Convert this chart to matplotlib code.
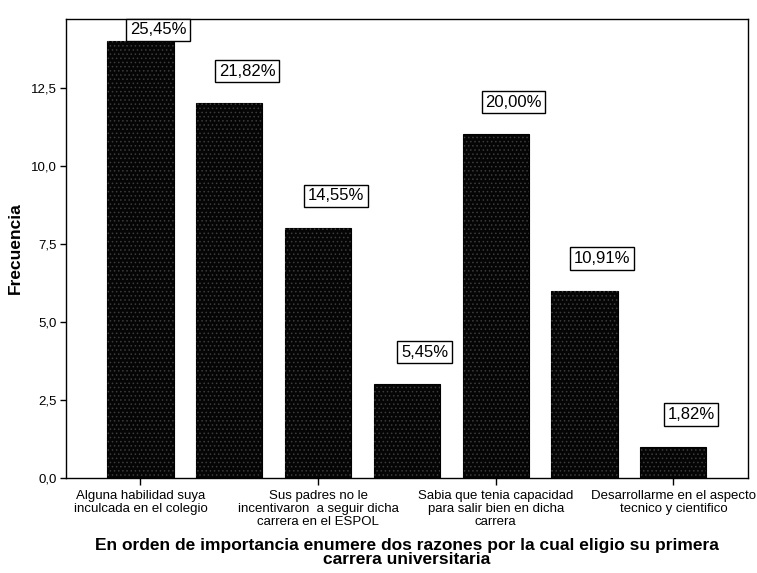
import matplotlib
matplotlib.use("Agg")
import matplotlib.pyplot as plt
import numpy as np

plt.rcParams['font.family'] = ['Liberation Sans', 'DejaVu Sans']
plt.rcParams['hatch.linewidth'] = 0.6

# Data
categories = [
    "Alguna habilidad suya\ninculcada en el colegio",
    "",
    "Sus padres no le\nincentivaron  a seguir dicha\ncarrera en el ESPOL",
    "",
    "Sabia que tenia capacidad\npara salir bien en dicha\ncarrera",
    "",
    "Desarrollarme en el aspecto\ntecnico y cientifico",
]
frecuencia = [14, 12, 8, 3, 11, 6, 1]
porcentaje = ["25,45%", "21,82%", "14,55%", "5,45%", "20,00%", "10,91%", "1,82%"]
yticks = [0, 2.5, 5, 7.5, 10, 12.5]
ytick_labels = ["0,0", "2,5", "5,0", "7,5", "10,0", "12,5"]
xlabel = "En orden de importancia enumere dos razones por la cual eligio su primera\ncarrera universitaria"
ylabel = "Frecuencia"

fig = plt.figure(figsize=(7.57, 5.73), dpi=100)
ax = fig.add_axes([0.087, 0.166, 0.901, 0.801])

x = np.arange(len(frecuencia))
ax.bar(x, frecuencia, width=0.745, color="#050505", edgecolor="black", linewidth=0.8, zorder=2)
ax.bar(x, frecuencia, width=0.745, facecolor="none", edgecolor="#3c3c3c", hatch="....",
       linewidth=0, zorder=3)

ymax = 14.7
ax.set_xlim(-0.84, 6.84)
ax.set_ylim(0, ymax)

for xi, v, lab in zip(x, frecuencia, porcentaje):
    ypos = min(v + 1.03, ymax - 0.35)
    ax.text(xi + 0.2, ypos, lab, ha="center", va="center", fontsize=12,
            bbox=dict(boxstyle="square,pad=0.22", facecolor="white", edgecolor="black", linewidth=1.0),
            zorder=5)

shown = [i for i, c in enumerate(categories) if c]
ax.set_xticks(shown)
ax.set_xticklabels([categories[i] for i in shown], fontsize=9.5, linespacing=1.08)
ax.set_yticks(yticks)
ax.set_yticklabels(ytick_labels, fontsize=9.5)
ax.tick_params(axis="x", direction="out", length=5, width=1, pad=4)
ax.tick_params(axis="y", direction="out", length=4.5, width=1, pad=2)

for s in ax.spines.values():
    s.set_linewidth(1.0)
    s.set_color("black")

ax.set_xlabel(xlabel, fontsize=12.5, fontweight="bold", linespacing=0.92, labelpad=7)
ax.set_ylabel(ylabel, fontsize=12.5, fontweight="bold", labelpad=6)

fig.savefig("out.png", dpi=100)
